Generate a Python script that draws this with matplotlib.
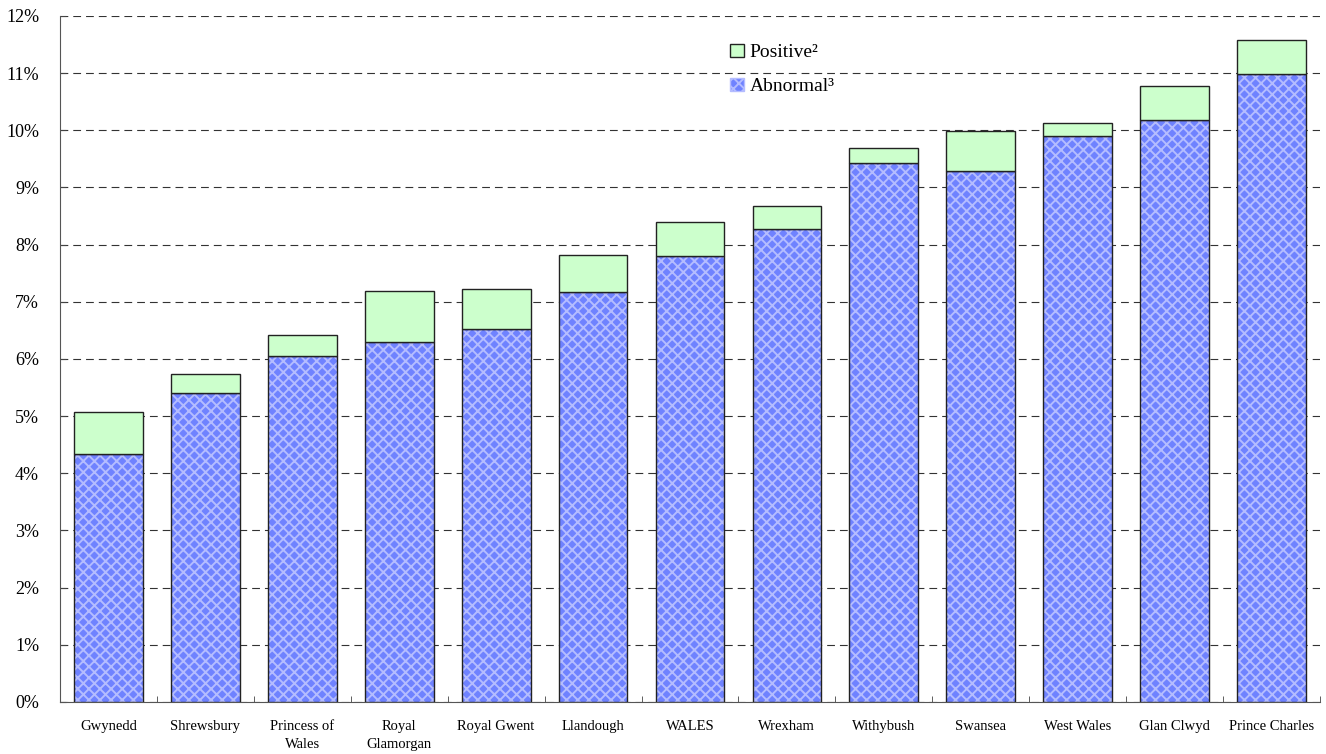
import numpy as np
import matplotlib.pyplot as plt
from matplotlib.patches import Patch
from matplotlib.ticker import FuncFormatter, MultipleLocator

plt.rcParams['font.family'] = ['Liberation Serif', 'DejaVu Serif']

# =========================
# Data (percent)
# =========================
hospitals = ["Gwynedd", "Shrewsbury", "Princess of\nWales", "Royal\nGlamorgan",
             "Royal Gwent", "Llandough", "WALES", "Wrexham", "Withybush",
             "Swansea", "West Wales", "Glan Clwyd", "Prince Charles"]
abnormal = [4.34, 5.40, 6.05, 6.29, 6.53, 7.17, 7.80, 8.28, 9.43, 9.28, 9.90, 10.18, 10.99]
total = [5.07, 5.74, 6.42, 7.18, 7.22, 7.82, 8.40, 8.67, 9.69, 9.99, 10.13, 10.77, 11.57]
positive = [t - a for t, a in zip(total, abnormal)]

blue = "#6f82ff"
blue_hatch = "#b4bcff"
green = "#ccffcc"

fig = plt.figure(figsize=(13.26, 7.54), dpi=100)
ax = fig.add_axes([0.0452, 0.069, 0.9503, 0.910])

x = np.arange(len(hospitals))
w = 0.71

# hatched abnormal bars: fill + hatch first, outline on top
plt.rcParams['hatch.linewidth'] = 1.4
ax.bar(x, abnormal, w, color=blue, edgecolor=blue_hatch, hatch="xxx", linewidth=0, zorder=3)
ax.bar(x, abnormal, w, fill=False, edgecolor="#222222", linewidth=1.0, zorder=4)
ax.bar(x, positive, w, bottom=abnormal, color=green, edgecolor="#222222", linewidth=1.0, zorder=4)

ax.set_xlim(-0.5, len(hospitals) - 0.5)
ax.set_ylim(0, 12)
ax.yaxis.set_major_locator(MultipleLocator(1))
ax.yaxis.set_major_formatter(FuncFormatter(lambda v, p: f"{v:.0f}%"))
ax.grid(axis="y", linestyle=(0, (7, 4.5)), color="#333333", linewidth=0.8, zorder=0)

ax.set_xticks(x)
ax.set_xticklabels(hospitals, fontsize=10.5, linespacing=1.45, va="top")
ax.set_xticks(np.arange(len(hospitals) + 1) - 0.5, minor=True)
ax.tick_params(axis="x", which="major", length=0, pad=13)
ax.tick_params(axis="x", which="minor", direction="in", length=4, color="#444444")
ax.tick_params(axis="y", direction="in", length=4, labelsize=13, pad=15, color="#444444")

for s in ["top", "right"]:
    ax.spines[s].set_visible(False)
ax.spines["left"].set_color("#555555")
ax.spines["bottom"].set_color("#555555")

handles = [Patch(facecolor=green, edgecolor="#222222", label="Positive²"),
           Patch(facecolor=blue, edgecolor=blue_hatch, hatch="xxx", label="Abnormal³")]
leg = ax.legend(handles=handles, loc="upper left", bbox_to_anchor=(0.518, 0.985),
                frameon=False, fontsize=14, handlelength=0.7, handleheight=0.7,
                handletextpad=0.3, labelspacing=0.85)

fig.savefig("out.png", dpi=100)
